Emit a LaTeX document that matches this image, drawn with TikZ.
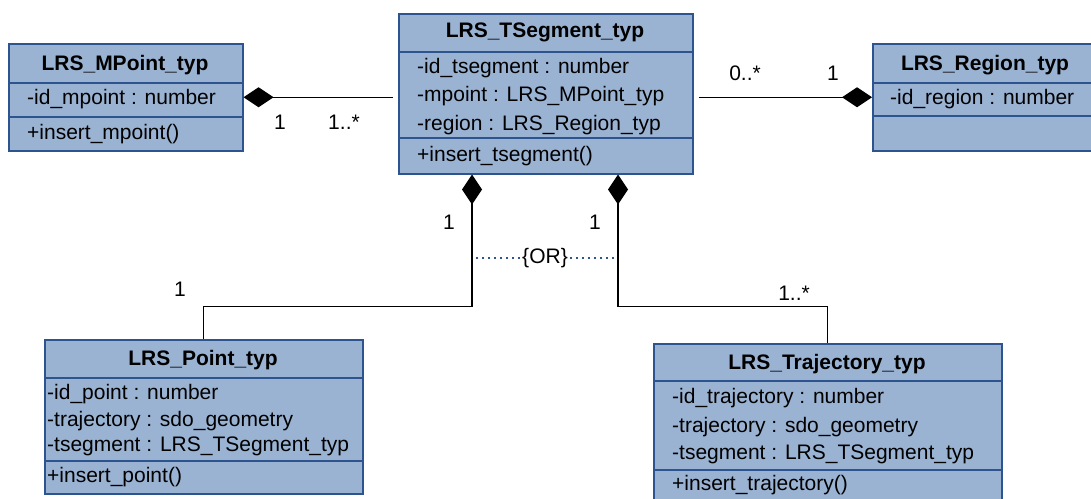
\documentclass[tikz,border=0pt]{standalone}
\usepackage{fontspec}
\setmainfont{Liberation Sans}
\usetikzlibrary{arrows.meta,calc}
\definecolor{fillc}{RGB}{154,179,211}
\definecolor{bordc}{RGB}{46,84,144}
\tikzset{
  cls/.style={draw=bordc, fill=fillc, line width=1.5pt, rectangle, inner sep=0pt, anchor=north west},
  hdr/.style={font=\fontsize{21}{25}\selectfont\bfseries, anchor=base, inner sep=0pt},
  attr/.style={font=\fontsize{21}{25}\selectfont, anchor=base west, inner sep=0pt},
  sepl/.style={draw=bordc, line width=1.5pt},
  conn/.style={line width=1.2pt, draw=black},
  mult/.style={font=\fontsize{21}{25}\selectfont, inner sep=0pt},
  dia/.style={{Diamond[length=30pt,width=20pt]}-},
  orline/.style={draw=bordc, line width=2pt, dash pattern=on 2pt off 4pt}
}
\begin{document}
\begin{tikzpicture}[x=1pt,y=-1pt]
\useasboundingbox (0,0) rectangle (1091,498);

% LRS_MPoint_typ
\node[cls, minimum width=234pt, minimum height=107pt] (mp) at (8,43) {};
\draw[sepl] (8,83) -- (242,83) (8,117) -- (242,117);
\node[hdr] (mph) at (125,70) {LRS\_MPoint\_typ};
\node[attr] (mpa) at (27,104) {-id\_mpoint : number};
\node[attr] (mpm) at (27,139) {+insert\_mpoint()};

% LRS_TSegment_typ
\node[cls, minimum width=294pt, minimum height=160pt] (ts) at (398,13) {};
\draw[sepl] (398,52) -- (692,52) (398,138) -- (692,138);
\node[hdr] (tsh) at (545,37) {LRS\_TSegment\_typ};
\node[attr] (tsa1) at (417,73) {-id\_tsegment : number};
\node[attr] (tsa2) at (417,101) {-mpoint : LRS\_MPoint\_typ};
\node[attr] (tsa3) at (417,130) {-region : LRS\_Region\_typ};
\node[attr] (tsm) at (417,161) {+insert\_tsegment()};

% LRS_Region_typ
\node[cls, minimum width=226pt, minimum height=107pt] (rg) at (872,43) {};
\draw[sepl] (872,83) -- (1098,83) (872,116) -- (1098,116);
\node[hdr] (rgh) at (985,70) {LRS\_Region\_typ};
\node[attr] (rga) at (890,104) {-id\_region : number};

% LRS_Point_typ
\node[cls, minimum width=318pt, minimum height=154pt] (pt) at (44,339) {};
\draw[sepl] (44,378) -- (362,378) (44,461) -- (362,461);
\node[hdr] (pth) at (203,365) {LRS\_Point\_typ};
\node[attr] (pta1) at (47,399) {-id\_point : number};
\node[attr] (pta2) at (47,426) {-trajectory : sdo\_geometry};
\node[attr] (pta3) at (47,451) {-tsegment : LRS\_TSegment\_typ};
\node[attr] (ptm) at (47,482) {+insert\_point()};

% LRS_Trajectory_typ
\node[cls, minimum width=348pt, minimum height=164pt] (tj) at (653,343) {};
\draw[sepl] (653,381) -- (1001,381) (653,470) -- (1001,470);
\node[hdr] (tjh) at (827,369) {LRS\_Trajectory\_typ};
\node[attr] (tja1) at (672,403) {-id\_trajectory : number};
\node[attr] (tja2) at (672,432) {-trajectory : sdo\_geometry};
\node[attr] (tja3) at (672,459) {-tsegment : LRS\_TSegment\_typ};
\node[attr] (tjm) at (672,490) {+insert\_trajectory()};

% connectors
\draw[conn, dia] (mp.east) -- (mp.east -| ts.west) [shorten >=5pt];
\draw[conn, dia] (rg.west) -- (rg.west -| ts.east) [shorten >=5pt];

\coordinate (lv) at ($(ts.south west)+(74,0)$);
\coordinate (rv) at ($(ts.south west)+(220,0)$);
\draw[conn, dia] (lv) -- ++(0,132) -| (pt.north);
\draw[conn, dia] (rv) -- ++(0,132) -| (tj.north);

% {OR} constraint
\node[mult, inner sep=2pt] (or) at (545,258) {\{OR\}};
\draw[orline] (or.west) -- (or.west -| lv) [shorten >=3pt];
\draw[orline] (or.east) -- (or.east -| rv) [shorten >=3pt];

% multiplicities
\node[mult] (m1) at (280,122) {1};
\node[mult] (m2) at (344,122) {1..*};
\node[mult] (m3) at (745,73) {0..*};
\node[mult] (m4) at (833,73) {1};
\node[mult] (m5) at (449,222) {1};
\node[mult] (m6) at (595,222) {1};
\node[mult] (m7) at (180,289) {1};
\node[mult] (m8) at (794,293) {1..*};
\end{tikzpicture}
\end{document}
